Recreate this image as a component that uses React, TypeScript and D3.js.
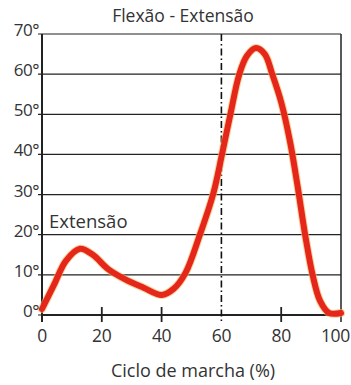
import React, {useEffect, useRef} from 'react';
import * as d3 from 'd3';

// gait cycle (%) vs knee angle (degrees)
const cycle = [0, 4, 8, 12.7, 17, 22, 28, 34, 40, 44, 48, 52.8, 57.2, 60.2, 63, 66, 68.5, 71.5, 74.5, 77, 80, 83, 85.5, 88, 90.5, 93, 96, 100];
const angle = [1.5, 7.5, 13.5, 16.5, 15, 11.5, 8.8, 6.8, 5, 6.5, 10.5, 20, 30, 40, 50, 60, 64.5, 66.5, 65, 60, 53, 43, 32, 20, 10, 3.5, 0.5, 0.5];
const yTicks = [0, 10, 20, 30, 40, 50, 60, 70];
const yLabels = ['0°', '10°', '20°', '30°', '40°', '50°', '60°', '70°'];
const xTicks = [0, 20, 40, 60, 80, 100];

const W = 351;
const H = 385;

export default function App() {
  const ref = useRef<SVGSVGElement>(null);

  useEffect(() => {
    const svg = d3.select(ref.current);
    svg.selectAll('*').remove();
    const font = '"Open Sans", sans-serif';
    const ink = '#333';

    const x = d3.scaleLinear().domain([0, 100]).range([42, 341]);
    const y = d3.scaleLinear().domain([0, 70]).range([315, 34]);

    svg.append('rect').attr('width', W).attr('height', H).attr('fill', '#fff');

    // horizontal grid
    svg.append('g')
      .selectAll('line')
      .data(yTicks)
      .join('line')
      .attr('x1', x(0) - 4)
      .attr('x2', x(100))
      .attr('y1', d => y(d))
      .attr('y2', d => y(d))
      .attr('stroke', '#222')
      .attr('stroke-width', 1.2);

    // frame: left axis, bottom axis, right border
    svg.append('line').attr('x1', x(0)).attr('x2', x(0)).attr('y1', y(70)).attr('y2', y(0) + 7)
      .attr('stroke', '#222').attr('stroke-width', 2);
    svg.append('line').attr('x1', x(100)).attr('x2', x(100)).attr('y1', y(70)).attr('y2', y(0) + 7)
      .attr('stroke', '#222').attr('stroke-width', 1.5);
    svg.append('line').attr('x1', x(0)).attr('x2', x(100)).attr('y1', y(0)).attr('y2', y(0))
      .attr('stroke', '#222').attr('stroke-width', 2);

    // x ticks
    svg.append('g')
      .selectAll('line')
      .data(xTicks.filter(d => d !== 0 && d !== 60 && d !== 100))
      .join('line')
      .attr('x1', d => x(d))
      .attr('x2', d => x(d))
      .attr('y1', y(0) - 8)
      .attr('y2', y(0) + 7)
      .attr('stroke', '#222')
      .attr('stroke-width', 1.8);

    // dash-dot line at 60%
    svg.append('line')
      .attr('x1', x(60)).attr('x2', x(60))
      .attr('y1', y(70)).attr('y2', y(0) + 6)
      .attr('stroke', '#111')
      .attr('stroke-width', 1.6)
      .attr('stroke-dasharray', '7,3,1.5,3');

    // curve
    const line = d3.line<number>()
      .x((_, i) => x(cycle[i]))
      .y(d => y(d))
      .curve(d3.curveCatmullRom.alpha(0.5));
    svg.append('path').datum(angle).attr('d', line)
      .attr('fill', 'none').attr('stroke', '#f7b35a').attr('stroke-width', 8)
      .attr('stroke-linejoin', 'round').attr('stroke-linecap', 'round').attr('opacity', 0.6);
    svg.append('path').datum(angle).attr('d', line)
      .attr('fill', 'none').attr('stroke', '#e4261b').attr('stroke-width', 6)
      .attr('stroke-linejoin', 'round').attr('stroke-linecap', 'round');

    // y labels
    svg.append('g')
      .selectAll('text')
      .data(yTicks)
      .join('text')
      .attr('x', 39)
      .attr('y', d => y(d) + 2)
      .attr('text-anchor', 'end')
      .attr('font-family', font)
      .attr('font-size', 17)
      .attr('letter-spacing', -0.5)
      .attr('fill', ink)
      .text((_, i) => yLabels[i]);

    // x labels
    svg.append('g')
      .selectAll('text')
      .data(xTicks)
      .join('text')
      .attr('x', d => (d === 100 ? 350 : x(d)))
      .attr('y', 342)
      .attr('text-anchor', d => (d === 100 ? 'end' : 'middle'))
      .attr('font-family', font)
      .attr('font-size', 17.5)
      .attr('letter-spacing', -0.3)
      .attr('fill', ink)
      .text(d => String(d));

    svg.append('text').attr('x', 183).attr('y', 22).attr('text-anchor', 'middle')
      .attr('font-family', font).attr('font-size', 17.5).attr('fill', ink).text('Flexão - Extensão');
    svg.append('text').attr('x', 193).attr('y', 377).attr('text-anchor', 'middle')
      .attr('font-family', font).attr('font-size', 18).attr('fill', ink).text('Ciclo de marcha (%)');
    svg.append('text').attr('x', 49).attr('y', 228)
      .attr('font-family', font).attr('font-size', 18.5).attr('fill', ink).text('Extensão');
  }, []);

  return (
    <svg ref={ref} width={W} height={H} style={{position: 'absolute', left: 0, top: 0}} />
  );
}
